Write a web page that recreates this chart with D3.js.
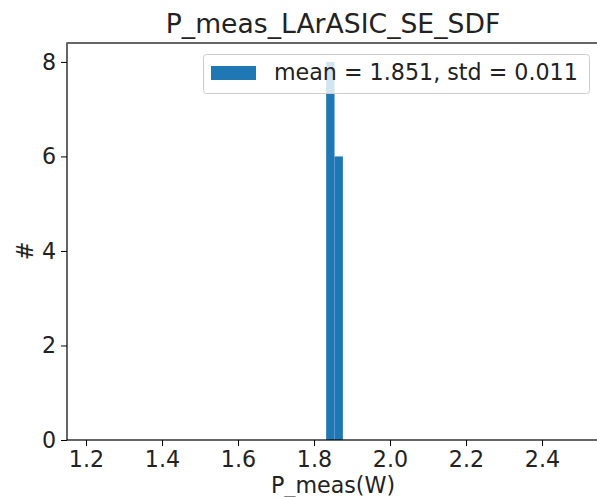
<!DOCTYPE html>
<html>
<head>
<meta charset="utf-8">
<script src="https://cdn.jsdelivr.net/npm/d3@7.9.0/dist/d3.min.js"></script>
<style>
  html, body { margin: 0; padding: 0; background: #fff; }
  svg { display: block; font-family: "DejaVu Sans", sans-serif; }
</style>
</head>
<body>
<svg id="chart" width="597" height="497"></svg>
<script>
// histogram bins (left edge, right edge) and counts
const binStarts = [1.832, 1.854];
const binEnds = [1.854, 1.876];
const counts = [8, 6];
const xTicks = [1.2, 1.4, 1.6, 1.8, 2.0, 2.2, 2.4];
const yTicks = [0, 2, 4, 6, 8];
const title = 'P_meas_LArASIC_SE_SDF';
const legendLabel = 'mean = 1.851, std = 0.011';

const W = 597, H = 497;
const margin = { left: 67, right: -2, top: 43, bottom: 57 };
const fs = 22.2;

const svg = d3.select('#chart');
const x = d3.scaleLinear().domain([1.15, 2.55]).range([margin.left, W - margin.right]);
const y = d3.scaleLinear().domain([0, 8.4]).range([H - margin.bottom, margin.top]);

//bars
svg.append('g')
  .selectAll('rect')
  .data(counts)
  .join('rect')
  .attr('x', (d, i) => x(binStarts[i]))
  .attr('width', (d, i) => x(binEnds[i]) - x(binStarts[i]))
  .attr('y', d => y(d))
  .attr('height', d => y(0) - y(d))
  .attr('fill', '#1f77b4');

//axes
const xAxis = svg.append('g')
  .attr('transform', `translate(0,${y(0)})`)
  .call(d3.axisBottom(x).tickValues(xTicks).tickFormat(d3.format('.1f')).tickSize(6).tickPadding(5));
const yAxis = svg.append('g')
  .attr('transform', `translate(${margin.left},0)`)
  .call(d3.axisLeft(y).tickValues(yTicks).tickFormat(d3.format('d')).tickSize(6).tickPadding(5));
[xAxis, yAxis].forEach(g => {
  g.select('.domain').remove();
  g.selectAll('line').attr('stroke', '#000');
  g.selectAll('text').attr('font-size', fs).attr('fill', '#222').attr('font-family', 'DejaVu Sans');
});

//spines
svg.append('rect')
  .attr('x', margin.left).attr('y', margin.top)
  .attr('width', W - margin.right - margin.left)
  .attr('height', y(0) - margin.top)
  .attr('fill', 'none').attr('stroke', '#000').attr('stroke-width', 1.2);
svg.append('line')
  .attr('x1', margin.left).attr('x2', W).attr('y1', margin.top).attr('y2', margin.top)
  .attr('stroke', '#666').attr('stroke-width', 2);

//title and labels
svg.append('text').attr('x', (margin.left + W - margin.right) / 2).attr('y', 33)
  .attr('text-anchor', 'middle').attr('font-size', fs * 1.2).attr('fill', '#222').text(title);
svg.append('text').attr('x', (margin.left + W - margin.right) / 2).attr('y', 493)
  .attr('text-anchor', 'middle').attr('font-size', fs).attr('fill', '#222').text('P_meas(W)');
svg.append('text').attr('transform', `translate(33,${y(4)}) rotate(-90)`)
  .attr('text-anchor', 'middle').attr('font-size', fs).attr('fill', '#222').text('#');

//legend
const lg = svg.append('g');
lg.append('rect').attr('x', 203.5).attr('y', 54.5).attr('width', 386).attr('height', 39).attr('rx', 3)
  .attr('fill', '#fff').attr('fill-opacity', 0.8).attr('stroke', '#ccc');
lg.append('rect').attr('x', 211).attr('y', 66).attr('width', 45).attr('height', 14).attr('fill', '#1f77b4');
lg.append('text').attr('x', 274).attr('y', 80).attr('font-size', fs).attr('fill', '#222').text(legendLabel);
</script>
</body>
</html>
